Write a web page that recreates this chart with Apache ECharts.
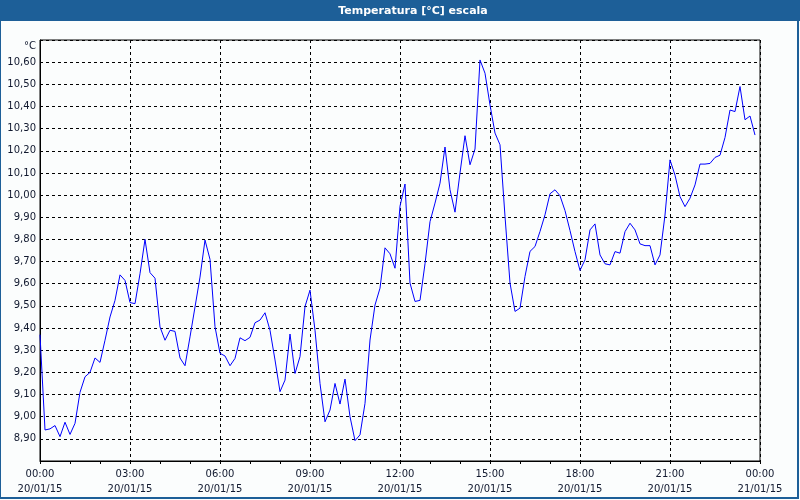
<!DOCTYPE html>
<html><head><meta charset="utf-8">
<script src="https://cdn.jsdelivr.net/npm/echarts@6/dist/echarts.min.js"></script>
<style>html,body{margin:0;padding:0;background:#fbfdfd}#c{width:800px;height:500px}</style>
</head><body><div id="c"></div>
<script>
const chartTitle = 'Temperatura [°C] escala';
const yUnit = '°C';
const stepMinutes = 10;
const temps = [
  9.37, 8.94, 8.945, 8.96, 8.91, 8.975, 8.92, 8.97, 9.11, 9.18,
  9.20, 9.265, 9.245, 9.345, 9.45, 9.525, 9.64, 9.615, 9.515, 9.51,
  9.645, 9.80, 9.65, 9.625, 9.405, 9.345, 9.39, 9.385, 9.265, 9.23,
  9.36, 9.495, 9.63, 9.797, 9.71, 9.406, 9.286, 9.274, 9.23, 9.263,
  9.356, 9.343, 9.358, 9.424, 9.436, 9.469, 9.39, 9.256, 9.113, 9.165,
  9.373, 9.195, 9.271, 9.497, 9.571, 9.39, 9.15, 8.977, 9.03, 9.15,
  9.057, 9.17, 9.0, 8.892, 8.918, 9.06, 9.346, 9.504, 9.58, 9.762,
  9.735, 9.67, 9.95, 10.05, 9.603, 9.52, 9.525, 9.69, 9.88, 9.964,
  10.054, 10.217, 10.024, 9.923, 10.10, 10.268, 10.137, 10.208, 10.61, 10.55,
  10.407, 10.28, 10.227, 9.904, 9.603, 9.475, 9.49, 9.633, 9.746, 9.768,
  9.836, 9.911, 10.006, 10.024, 9.997, 9.93, 9.84, 9.745, 9.66, 9.708,
  9.843, 9.87, 9.73, 9.69, 9.685, 9.745, 9.738, 9.835, 9.873, 9.843,
  9.78, 9.772, 9.772, 9.685, 9.73, 9.91, 10.159, 10.09, 9.993, 9.948,
  9.986, 10.046, 10.14, 10.14, 10.143, 10.17, 10.18, 10.26, 10.384, 10.377,
  10.49, 10.34, 10.357, 10.271
];
const xTickTimes = ['00:00','03:00','06:00','09:00','12:00','15:00','18:00','21:00','00:00'];
const xTickDates = ['20/01/15','20/01/15','20/01/15','20/01/15','20/01/15','20/01/15','20/01/15','20/01/15','21/01/15'];

const seriesData = temps.map((v, i) => [i * stepMinutes, v]);
const FONT = "'DejaVu Sans', Verdana, sans-serif";
const TXT = '#10182e';
const chart = echarts.init(document.getElementById('c'));
chart.setOption({
  animation: false,
  backgroundColor: '#fbfdfd',
  grid: { left: 40, top: 40, width: 720, height: 421, show: true, borderColor: '#000', borderWidth: 1, backgroundColor: 'transparent' },
  xAxis: {
    type: 'value', min: 0, max: 1440, interval: 180,
    axisLine: { lineStyle: { color: '#000', width: 1 } },
    axisTick: { show: true, length: 3, lineStyle: { color: '#000' } },
    minorTick: { show: true, splitNumber: 3, length: 3, lineStyle: { color: '#000' } },
    splitLine: { show: true, lineStyle: { color: '#000', type: [3, 3], width: 1 } },
    axisLabel: {
      margin: 6, lineHeight: 15, fontSize: 10, fontFamily: FONT, color: TXT,
      formatter: v => { const k = Math.round(v / 180); return xTickTimes[k] + '\n' + xTickDates[k]; }
    }
  },
  yAxis: {
    type: 'value', min: 8.8, max: 10.7, interval: 0.1,
    name: yUnit, nameLocation: 'end', nameGap: -6,
    nameTextStyle: { align: 'right', verticalAlign: 'middle', padding: [0, 4, 0, 0], fontSize: 10, fontFamily: FONT, color: TXT },
    axisLine: { show: true, lineStyle: { color: '#000', width: 1 } },
    axisTick: { show: false },
    splitLine: { show: true, lineStyle: { color: '#000', type: [3, 3], width: 1 } },
    axisLabel: {
      margin: 4, fontSize: 10, fontFamily: FONT, color: TXT,
      formatter: v => (v < 8.85 || v > 10.65) ? '' : v.toFixed(2).replace('.', ',')
    }
  },
  series: [{
    type: 'line', data: seriesData, showSymbol: false, symbol: 'none',
    lineStyle: { color: '#0000ff', width: 1 }, itemStyle: { color: '#0000ff' }
  }],
  graphic: [
    { type: 'rect', shape: { x: 0, y: 0, width: 800, height: 21 }, style: { fill: '#1d5f98' }, z: 10 },
    { type: 'text', x: 413, y: 11, style: { text: chartTitle, align: 'center', verticalAlign: 'middle', fill: '#ffffff', font: "bold 11px 'DejaVu Sans', sans-serif" }, z: 11 },
    { type: 'rect', shape: { x: 0, y: 0, width: 798, height: 498 }, style: { fill: 'none', stroke: '#1d5f98', lineWidth: 2 }, z: 10 }
  ]
});
</script></body></html>
